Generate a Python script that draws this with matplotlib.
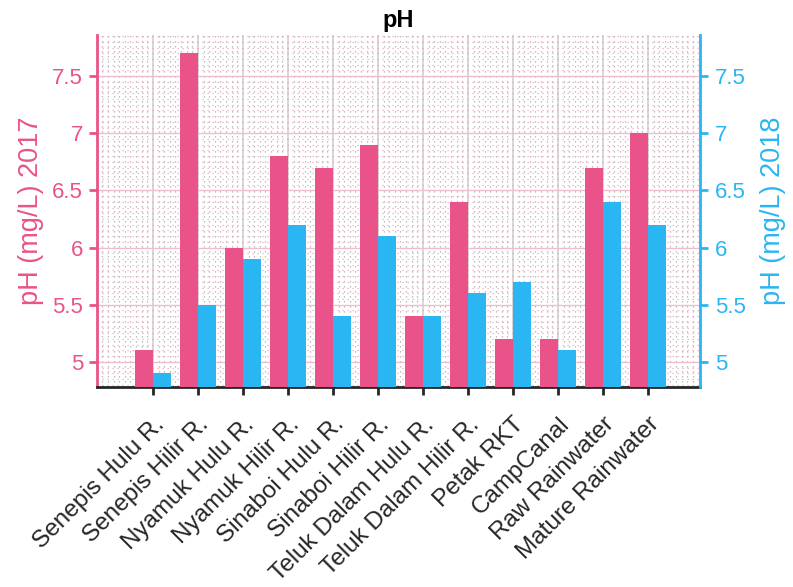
import matplotlib
matplotlib.use('Agg')
import matplotlib.pyplot as plt
import matplotlib.transforms as mtransforms
from matplotlib.ticker import MultipleLocator, FormatStrFormatter
import numpy as np

plt.rcParams['font.family'] = ['Liberation Sans', 'DejaVu Sans']

sites = ['Senepis Hulu R.', 'Senepis Hilir R.', 'Nyamuk Hulu R.', 'Nyamuk Hilir R.',
         'Sinaboi Hulu R.', 'Sinaboi Hilir R.', 'Teluk Dalam Hulu R.', 'Teluk Dalam Hilir R.',
         'Petak RKT', 'CampCanal', 'Raw Rainwater', 'Mature Rainwater']
ph_2017 = [5.1, 7.7, 6.0, 6.8, 6.7, 6.9, 5.4, 6.4, 5.2, 5.2, 6.7, 7.0]
ph_2018 = [4.9, 5.5, 5.9, 6.2, 5.4, 6.1, 5.4, 5.6, 5.7, 5.1, 6.4, 6.2]

pink = '#E9538A'
blue = '#29B6F3'

fig = plt.figure(figsize=(7.93, 5.87), dpi=100)
ax = fig.add_axes([0.1223, 0.3407, 0.7604, 0.5997])
ax2 = ax.twinx()

x = np.arange(len(sites))
w = 0.4

# background grids (dense dotted minor grid like the original)
ax.set_axisbelow(True)
ax.xaxis.set_minor_locator(MultipleLocator(0.125))
ax.yaxis.set_minor_locator(MultipleLocator(0.05))
ax.grid(True, which='minor', axis='x', color='#8a8a8a', linestyle=(0, (1, 3)), linewidth=0.9, alpha=0.7)
ax.grid(True, which='minor', axis='y', color='#e397b4', linestyle=(0, (1, 3)), linewidth=0.9, alpha=0.8)
ax.grid(True, which='major', axis='x', color='#d4d4d4', linewidth=1.3)
ax.grid(True, which='major', axis='y', color='#f2bcd0', linewidth=1.0)

ax.bar(x - w / 2, ph_2017, w, color=pink, zorder=3)
ax2.bar(x + w / 2, ph_2018, w, color=blue, zorder=3)

ylim = (4.78, 7.86)
for a in (ax, ax2):
    a.set_xlim(-1.244, 12.156)
    a.set_ylim(*ylim)
    a.yaxis.set_major_locator(MultipleLocator(0.5))
    a.yaxis.set_major_formatter(FormatStrFormatter('%g'))
    a.spines['top'].set_visible(False)

ax.set_xticks(x)
ax.set_xticklabels(sites, rotation=45, ha='right', rotation_mode='anchor', fontsize=17.5, color='#262626')
shift = mtransforms.ScaledTranslation(3 / 100, 0, fig.dpi_scale_trans)
for lbl in ax.get_xticklabels():
    lbl.set_transform(lbl.get_transform() + shift)
ax.tick_params(axis='x', which='major', length=6, width=2, color='#262626', pad=13)
ax.tick_params(axis='x', which='minor', length=0)
ax.tick_params(axis='y', which='major', colors=pink, labelsize=16, length=6, width=2, pad=4)
ax.tick_params(axis='y', which='minor', length=0)
ax2.tick_params(axis='y', which='major', colors=blue, labelsize=16, length=6, width=2, pad=5)
ax2.tick_params(axis='y', which='minor', length=0)

ax.spines['left'].set_color(pink)
ax.spines['left'].set_linewidth(2)
ax.spines['right'].set_visible(False)
ax.spines['bottom'].set_color('#262626')
ax.spines['bottom'].set_linewidth(2)
ax2.spines['left'].set_visible(False)
ax2.spines['bottom'].set_visible(False)
ax2.spines['right'].set_color(blue)
ax2.spines['right'].set_linewidth(2)

ax.set_ylabel('pH (mg/L) 2017', color=pink, fontsize=19.5, labelpad=6)
ax2.set_ylabel('pH (mg/L) 2018', color=blue, fontsize=19.5, labelpad=10)
ax.set_title('pH', fontsize=17, fontweight='bold', pad=6)

fig.savefig('out.png', dpi=100)
